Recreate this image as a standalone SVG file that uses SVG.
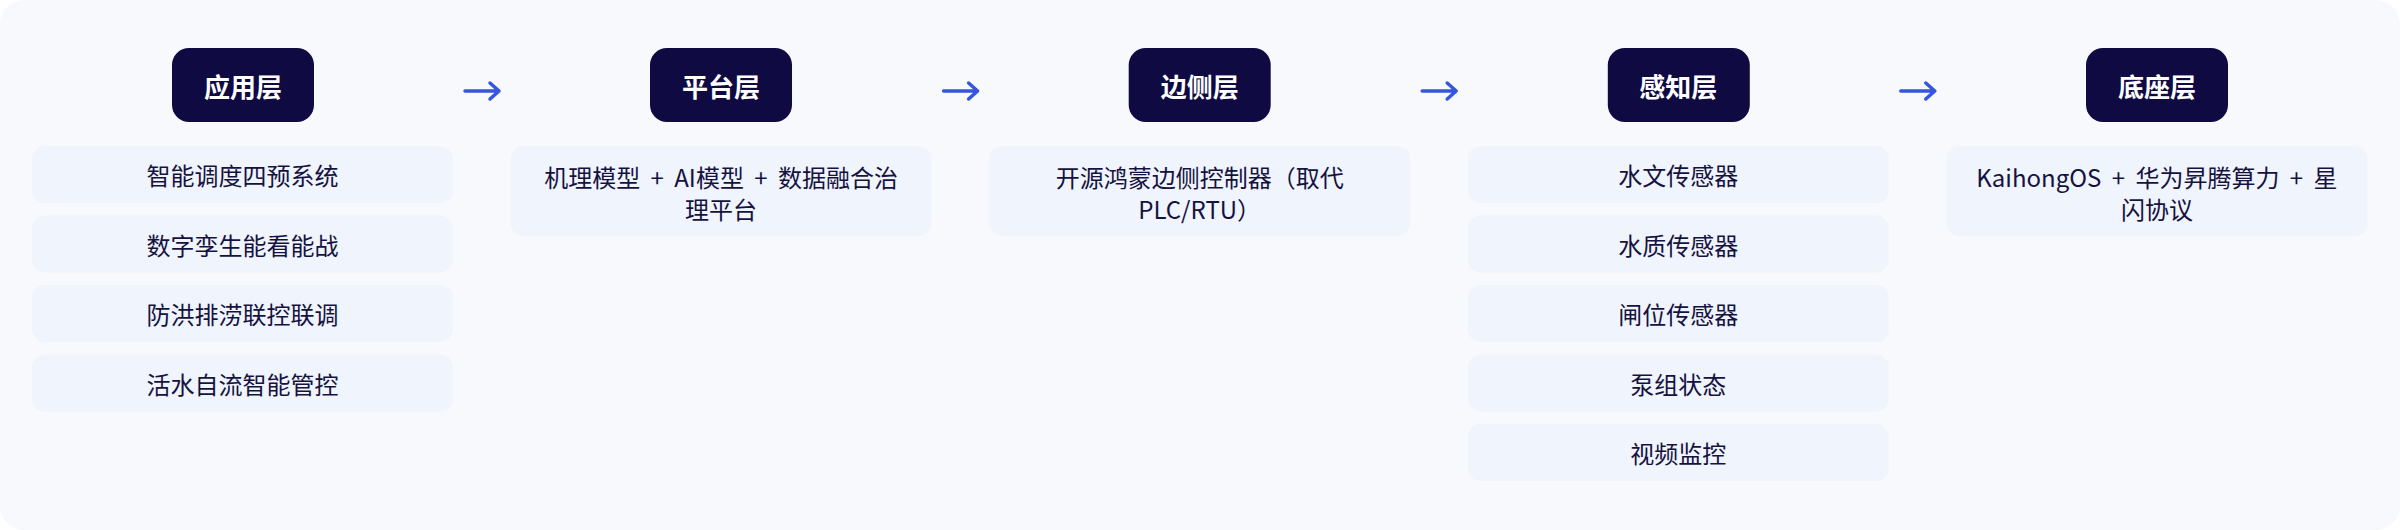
<svg xmlns="http://www.w3.org/2000/svg" width="2400" height="530" viewBox="0 0 2400 530">
<defs>
<style>
.card{fill:#f7f9fc}
.hdr{fill:#0f0a42}
.hdrt{fill:#ffffff;font-family:"Noto Sans CJK SC","Noto Sans",sans-serif;font-size:26px;font-weight:700;text-anchor:middle;dominant-baseline:central}
.item{fill:#eff4fd}
.itemt{fill:#16123f;font-family:"Noto Sans CJK SC","Noto Sans",sans-serif;font-size:24px;text-anchor:middle;dominant-baseline:central}
.ws{word-spacing:5px}
.arr{stroke:#3656e0;stroke-width:3.5;fill:none;stroke-linecap:round;stroke-linejoin:round}
</style>
</defs>
<rect x="0" y="0" width="2400" height="530" fill="#ffffff"/>
<rect class="card" x="0" y="0" width="2400" height="530" rx="24"/>

<g id="col-app">
<rect class="hdr" x="172" y="48" width="142" height="74" rx="17"/>
<text class="hdrt" x="243" y="85.5">应用层</text>
<rect class="item" x="32" y="146" width="421" height="57" rx="13"/>
<text class="itemt" x="242.5" y="174.5">智能调度四预系统</text>
<rect class="item" x="32" y="215.5" width="421" height="57" rx="13"/>
<text class="itemt" x="242.5" y="244">数字孪生能看能战</text>
<rect class="item" x="32" y="285" width="421" height="57" rx="13"/>
<text class="itemt" x="242.5" y="313.5">防洪排涝联控联调</text>
<rect class="item" x="32" y="354.5" width="421" height="57" rx="13"/>
<text class="itemt" x="242.5" y="383">活水自流智能管控</text>
</g>

<g id="col-platform">
<rect class="hdr" x="650" y="48" width="142" height="74" rx="17"/>
<text class="hdrt" x="721" y="85.5">平台层</text>
<rect class="item" x="510.6" y="146" width="421" height="90" rx="13"/>
<text class="itemt ws" x="721.1" y="176">机理模型 + AI模型 + 数据融合治</text>
<text class="itemt" x="721.1" y="208">理平台</text>
</g>

<g id="col-edge">
<rect class="hdr" x="1128.7" y="48" width="142" height="74" rx="17"/>
<text class="hdrt" x="1199.7" y="85.5">边侧层</text>
<rect class="item" x="989.2" y="146" width="421" height="90" rx="13"/>
<text class="itemt" x="1199.7" y="176">开源鸿蒙边侧控制器（取代</text>
<text class="itemt" x="1199.7" y="208">PLC/RTU）</text>
</g>

<g id="col-sense">
<rect class="hdr" x="1607.8" y="48" width="142" height="74" rx="17"/>
<text class="hdrt" x="1678.3" y="85.5">感知层</text>
<rect class="item" x="1467.8" y="146" width="421" height="57" rx="13"/>
<text class="itemt" x="1678.3" y="174.5">水文传感器</text>
<rect class="item" x="1467.8" y="215.5" width="421" height="57" rx="13"/>
<text class="itemt" x="1678.3" y="244">水质传感器</text>
<rect class="item" x="1467.8" y="285" width="421" height="57" rx="13"/>
<text class="itemt" x="1678.3" y="313.5">闸位传感器</text>
<rect class="item" x="1467.8" y="354.5" width="421" height="57" rx="13"/>
<text class="itemt" x="1678.3" y="383">泵组状态</text>
<rect class="item" x="1467.8" y="424" width="421" height="57" rx="13"/>
<text class="itemt" x="1678.3" y="452.5">视频监控</text>
</g>

<g id="col-base">
<rect class="hdr" x="2086" y="48" width="142" height="74" rx="17"/>
<text class="hdrt" x="2157" y="85.5">底座层</text>
<rect class="item" x="1946.4" y="146" width="421" height="90" rx="13"/>
<text class="itemt ws" x="2156.9" y="176">KaihongOS + 华为昇腾算力 + 星</text>
<text class="itemt" x="2156.9" y="208">闪协议</text>
</g>

<g id="connectors">
<path class="arr" d="M465 91 H499 M490 83 L499 91 L490 99"/>
<path class="arr" d="M943.6 91 H977.6 M968.6 83 L977.6 91 L968.6 99"/>
<path class="arr" d="M1422.2 91 H1456.2 M1447.2 83 L1456.2 91 L1447.2 99"/>
<path class="arr" d="M1900.8 91 H1934.8 M1925.8 83 L1934.8 91 L1925.8 99"/>
</g>
</svg>
